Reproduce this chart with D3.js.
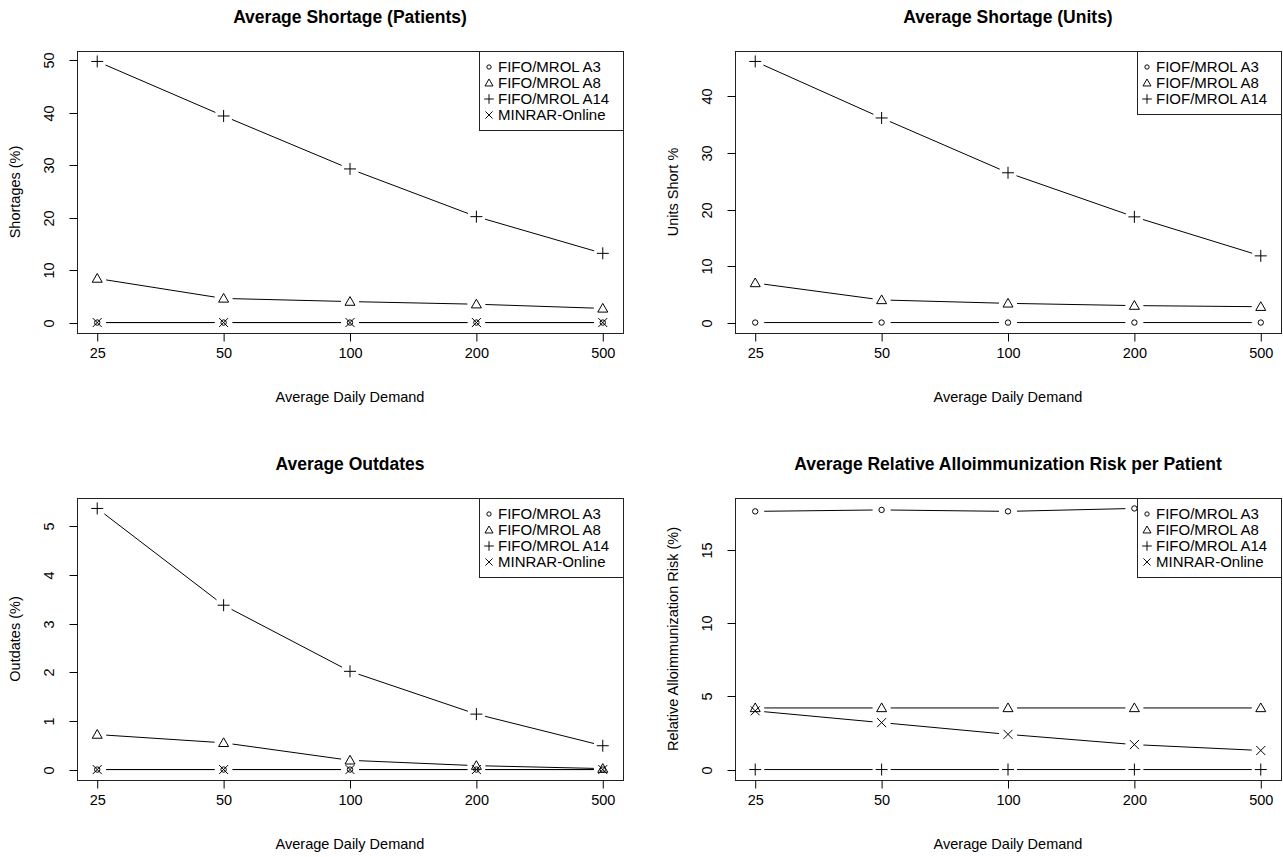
<!DOCTYPE html>
<html>
<head>
<meta charset="utf-8">
<script src="https://cdn.jsdelivr.net/npm/d3@7"></script>
<style>
  body { margin: 0; background: #fff; }
  text { font-family: "Liberation Sans", Arial, sans-serif; fill: #000; }
</style>
</head>
<body>
<div id="chart"></div>
<script>
// demand levels on the x axis
const demand = ["25", "50", "100", "200", "500"]

// Average Shortage (Patients)
const patA3 = [0, 0, 0, 0, 0]
const patA8 = [8.4, 4.6, 4.0, 3.5, 2.7]
const patA14 = [49.8, 39.4, 29.3, 20.2, 13.2]
const patMinrar = [0, 0, 0, 0, 0]

// Average Shortage (Units)
const unitA3 = [0, 0, 0, 0, 0]
const unitA8 = [7.0, 4.0, 3.4, 3.0, 2.8]
const unitA14 = [46.2, 36.2, 26.5, 18.7, 11.8]

// Average Outdates
const outA3 = [0, 0, 0, 0, 0]
const outA8 = [0.72, 0.55, 0.19, 0.08, 0.02]
const outA14 = [5.37, 3.38, 2.02, 1.14, 0.49]
const outMinrar = [0, 0, 0, 0, 0]

// Average Relative Alloimmunization Risk per Patient
const riskA3 = [17.6, 17.7, 17.6, 17.8, 17.7]
const riskA8 = [4.2, 4.2, 4.2, 4.2, 4.2]
const riskA14 = [0, 0, 0, 0, 0]
const riskMinrar = [4.0, 3.2, 2.4, 1.7, 1.3]

const ticks1 = [0, 10, 20, 30, 40, 50]
const ticks2 = [0, 10, 20, 30, 40]
const ticks3 = [0, 1, 2, 3, 4, 5]
const ticks4 = [0, 5, 10, 15]

const fifo = ["FIFO/MROL A3", "FIFO/MROL A8", "FIFO/MROL A14", "MINRAR-Online"]
const fiof = ["FIOF/MROL A3", "FIOF/MROL A8", "FIOF/MROL A14"]

const panels = [
  { title: "Average Shortage (Patients)", ylab: "Shortages (%)", left: 77, top: 51,
    series: [patA3, patA8, patA14, patMinrar], names: fifo, ticks: ticks1 },
  { title: "Average Shortage (Units)", ylab: "Units Short %", left: 735, top: 51,
    series: [unitA3, unitA8, unitA14], names: fiof, ticks: ticks2 },
  { title: "Average Outdates", ylab: "Outdates (%)", left: 77, top: 498,
    series: [outA3, outA8, outA14, outMinrar], names: fifo, ticks: ticks3 },
  { title: "Average Relative Alloimmunization Risk per Patient", ylab: "Relative Alloimmunization Risk (%)", left: 735, top: 498,
    series: [riskA3, riskA8, riskA14, riskMinrar], names: fifo, ticks: ticks4 }
]

const W = 546, H = 282, gap = 9
const fs = "14.5px"

// pch 1..4 style markers
function marker(k) {
  if (k == 0) return "M2.7,0A2.7,2.7 0 1,1 -2.7,0A2.7,2.7 0 1,1 2.7,0Z"
  if (k == 1) return "M0,-5L5,3.7L-5,3.7Z"
  if (k == 2) return "M-6,0L6,0M0,-6L0,6"
  return "M-4.5,-4.5L4.5,4.5M-4.5,4.5L4.5,-4.5"
}

const svg = d3.select("#chart").append("svg")
  .attr("width", 1283)
  .attr("height", 857)

panels.forEach(p => {
  const g = svg.append("g")
  const all = p.series.flat()
  const lo = d3.min(all), hi = d3.max(all), r = hi - lo

  const x = d3.scaleLinear().domain([1 - 0.16, 5 + 0.16]).range([p.left, p.left + W])
  const y = d3.scaleLinear().domain([lo - 0.04 * r, hi + 0.04 * r]).range([p.top + H, p.top])

  // series: lines with gaps around the points (type = "b")
  p.series.forEach((vals, k) => {
    const pts = vals.map((v, i) => [x(i + 1), y(v)])
    for (let i = 0; i < pts.length - 1; i++) {
      const [x0, y0] = pts[i], [x1, y1] = pts[i + 1]
      const len = Math.hypot(x1 - x0, y1 - y0)
      if (len <= 2 * gap) continue
      const ux = (x1 - x0) / len, uy = (y1 - y0) / len
      g.append("line")
        .attr("x1", x0 + ux * gap).attr("y1", y0 + uy * gap)
        .attr("x2", x1 - ux * gap).attr("y2", y1 - uy * gap)
        .attr("stroke", "#000")
        .attr("stroke-width", 1)
    }
    g.selectAll(null)
      .data(vals)
      .enter()
      .append("path")
      .attr("d", marker(k))
      .attr("transform", (d, i) => "translate(" + x(i + 1) + "," + y(d) + ")")
      .attr("fill", "none")
      .attr("stroke", "#000")
      .attr("stroke-width", 1)
  })

  // box
  g.append("rect")
    .attr("x", p.left + 0.5).attr("y", p.top + 0.5)
    .attr("width", W).attr("height", H)
    .attr("fill", "none").attr("stroke", "#222")

  // axes
  const xAxis = d3.axisBottom(x).tickValues([1, 2, 3, 4, 5])
    .tickFormat(d => demand[d - 1]).tickSize(8).tickPadding(6)
  const gx = g.append("g")
    .attr("transform", "translate(0," + (p.top + H + 0.5) + ")")
    .call(xAxis)
  gx.select(".domain").remove()
  gx.selectAll("text").attr("font-size", fs).attr("font-family", "Liberation Sans, Arial, sans-serif")

  const yAxis = d3.axisLeft(y).tickValues(p.ticks).tickSize(8).tickFormat(d3.format("d"))
  const gy = g.append("g")
    .attr("transform", "translate(" + (p.left + 0.5) + ",0)")
    .call(yAxis)
  gy.select(".domain").remove()
  gy.selectAll(".tick").attr("transform", d => "translate(0," + (Math.round(y(d)) + 0.5) + ")")
  gy.selectAll(".tick text")
    .attr("font-size", fs)
    .attr("font-family", "Liberation Sans, Arial, sans-serif")
    .attr("x", null).attr("dy", null).attr("y", 0)
    .attr("text-anchor", "middle")
    .attr("transform", "translate(-24,0) rotate(-90)")

  // titles
  g.append("text")
    .attr("x", p.left + W / 2).attr("y", p.top - 28)
    .attr("text-anchor", "middle")
    .attr("font-size", "17.5px").attr("font-weight", "bold")
    .text(p.title)
  g.append("text")
    .attr("x", p.left + W / 2).attr("y", p.top + H + 69)
    .attr("text-anchor", "middle")
    .attr("font-size", fs)
    .text("Average Daily Demand")
  g.append("text")
    .attr("transform", "translate(" + (p.left - 57) + "," + (p.top + H / 2) + ") rotate(-90)")
    .attr("text-anchor", "middle")
    .attr("font-size", fs)
    .text(p.ylab)

  // legend, top right
  const lw = 144, lh = 16 * p.names.length + 15
  const lg = g.append("g").attr("transform", "translate(" + (p.left + W - lw) + "," + p.top + ")")
  lg.append("rect")
    .attr("x", 0.5).attr("y", 0.5)
    .attr("width", lw).attr("height", lh)
    .attr("fill", "#fff").attr("stroke", "#222")
  p.names.forEach((n, k) => {
    lg.append("path")
      .attr("d", marker(k))
      .attr("transform", "translate(10," + (16 + 16 * k) + ") scale(0.8)")
      .attr("fill", "none").attr("stroke", "#000")
      .attr("stroke-width", 1.2)
    lg.append("text")
      .attr("x", 19).attr("y", 21 + 16 * k)
      .attr("font-size", "15px")
      .text(n)
  })
})
</script>
</body>
</html>
